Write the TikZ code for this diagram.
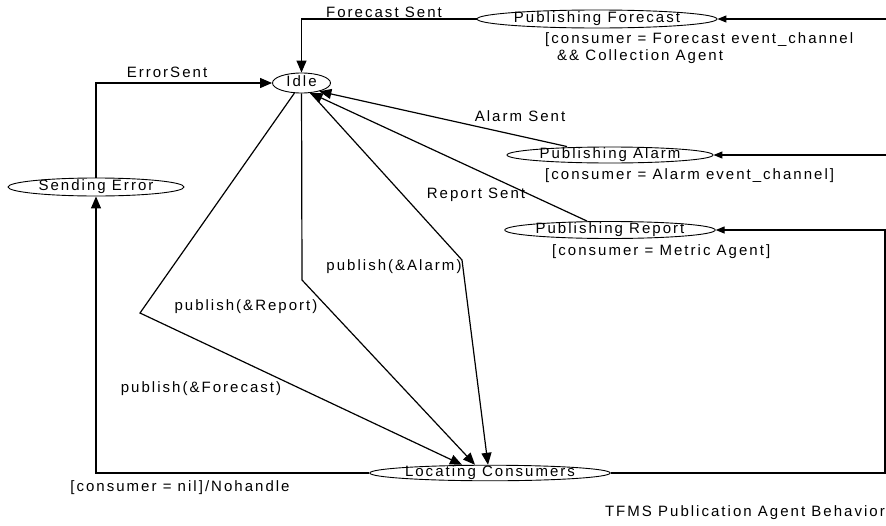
\documentclass[tikz,border=0pt]{standalone}
\usepackage{fontspec}
\setmainfont[LetterSpace=13.5]{Liberation Sans}
\usetikzlibrary{arrows.meta,shapes.geometric,calc}
\begin{document}
\begin{tikzpicture}[x=1pt,y=-1pt,
  every node/.style={font=\fontsize{15}{17}\selectfont, inner sep=0pt},
  st/.style={draw, ellipse, line width=0.9pt, inner sep=0pt, text height=9pt, text depth=2pt},
  tr/.style={line width=1.2pt},
  arr/.style={tr, -{Triangle[length=12pt,width=10pt]}},
  arrs/.style={tr, -{Triangle[length=9pt,width=7pt]}}]
\useasboundingbox (0,0) rectangle (886,525);

% states
\node[st, minimum width=58pt, minimum height=20pt] (idle) at (301.5,83) {Idle};
\node[st, minimum width=176pt, minimum height=18pt] (se) at (96,187) {Sending Error};
\node[st, minimum width=240pt, minimum height=18pt] (pf) at (597,19) {Publishing Forecast};
\node[st, minimum width=206pt, minimum height=16pt] (pa) at (610,155) {Publishing Alarm};
\node[st, minimum width=205pt, minimum height=17pt] (pr) at (610,230) {Publishing Report};
\node[st, minimum width=234pt, minimum height=15pt] (loc) at (490,473) {Locating Consumers};

% labels
\node (lfs) at (384,12) {Forecast Sent};
\node (les) at (167,72) {ErrorSent};
\node[align=left, anchor=west] (lcf) at (545,48.5) {[consumer = Forecast event\_channel\\\hspace*{12pt}\&\& Collection Agent};
\node (las) at (520,116) {Alarm Sent};
\node[anchor=west] (lca) at (545,176) {[consumer = Alarm event\_channel]};
\node (lrs) at (476,195) {Report Sent};
\node[anchor=west] (lcr) at (552,252) {[consumer = Metric Agent]};
\node (lpa) at (394,267) {publish(\&Alarm)};
\node (lpr) at (246,307) {publish(\&Report)};
\node (lpf) at (201,389) {publish(\&Forecast)};
\node (lnil) at (180,488) {[consumer = nil]/Nohandle};
\node[anchor=east] (cap) at (885,513) {TFMS Publication Agent Behavior};

% coordinates
\coordinate (ef) at (886,19);
\coordinate (ea) at (886,155);
\coordinate (er) at (886,230);
\coordinate (el) at (885,473);
\coordinate (b1) at (140,313);
\coordinate (b2) at (302,280);
\coordinate (b3) at (462,260);

% connectors
\draw[arrs] (ef) -- (pf.east);
\draw[arrs] (ea) -- (pa.east);
\draw[arrs] (er) -- (pr.east);
\draw[tr] (loc.east) -- (el) -- (el |- er);

\draw[arr] (pf.west) -| (idle.north);
\draw[arr] (se.north) |- (idle.west);
\draw[arr] (loc.west) -| (se.south);
\draw[arr] ([xshift=-43pt]pa.north) -- (idle.-25);
\draw[arr] ([xshift=-23pt]pr.north) -- (idle.-48);

\draw[arr] (idle) -- (b1) -- ([xshift=-28pt]loc.north);
\draw[arr] (idle) -- (b2) -- ([xshift=-15pt]loc.north);
\draw[arr] (idle) -- (b3) -- ([xshift=-2pt]loc.north);
\end{tikzpicture}
\end{document}
